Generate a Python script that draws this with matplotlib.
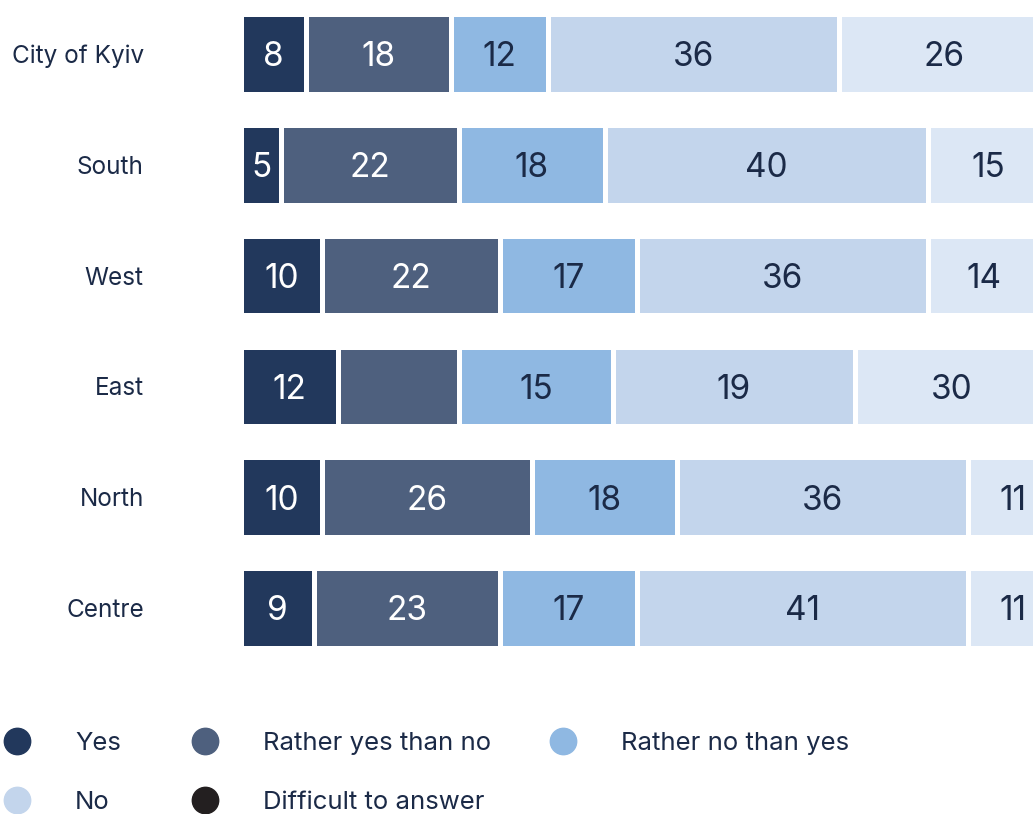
import matplotlib
matplotlib.use('agg')

import matplotlib.pyplot as plt
from matplotlib.lines import Line2D
import numpy as np

regions = ["City of Kyiv", "South", "West", "East", "North", "Centre"]
answers = ["Yes", "Rather yes than no", "Rather no than yes", "No", "Difficult to answer"]

# shares per region, in the order of answers
yes = [8, 5, 10, 12, 10, 9]
rather_yes = [18, 22, 22, 15, 26, 23]
rather_no = [12, 18, 17, 19, 18, 17]
no = [36, 40, 36, 30, 36, 41]
difficult = [26, 15, 14, 24, 11, 11]

# which segment each value label sits on (East has its labels moved one step right)
label_slots = [
    [0, 1, 2, 3, 4],
    [0, 1, 2, 3, 4],
    [0, 1, 2, 3, 4],
    [0, 2, 3, 4, None],
    [0, 1, 2, 3, 4],
    [0, 1, 2, 3, 4],
]

bar_colors = ["#22385c", "#4e607e", "#8fb8e2", "#c3d5ec", "#dce7f5"]
legend_colors = ["#22385c", "#4e607e", "#8fb8e2", "#c3d5ec", "#231f20"]
text_colors = ["white", "white", "#1b2a47", "#1b2a47", "#1b2a47"]
dark = "#1b2a47"

plt.rcParams['font.family'] = ['Inter', 'DejaVu Sans']

W, H = 1033, 814
fig = plt.figure(figsize=(W / 100, H / 100), dpi=100)

x0 = 241
px_per_unit = 8.08
row_step = 110.8
top_center = 54
ax_top = top_center - row_step / 2
ax_h = row_step * len(regions)
ax = fig.add_axes([x0 / W, 1 - (ax_top + ax_h) / H, (W - x0) / W, ax_h / H])

series = np.array([yes, rather_yes, rather_no, no, difficult], dtype=float)
ypos = np.arange(len(regions))
lefts = np.zeros(len(regions))
for k in range(len(answers)):
    ax.barh(ypos, series[k], left=lefts, height=0.72, color=bar_colors[k],
            edgecolor="white", linewidth=3.6)
    lefts += series[k]

starts = np.vstack([np.zeros(len(regions)), np.cumsum(series, axis=0)[:-1]])
for i in range(len(regions)):
    for k in range(len(answers)):
        slot = label_slots[i][k]
        if slot is None:
            continue
        cx = starts[slot, i] + series[slot, i] / 2
        ax.text(cx, i, "%d" % series[k, i], ha="center", va="center_baseline",
                fontsize=24, color=text_colors[slot])

ax.set_xlim(0, (W - x0) / px_per_unit)
ax.set_ylim(len(regions) - 0.5, -0.5)
ax.set_yticks(ypos)
ax.set_yticklabels(regions, fontsize=17.5, color=dark)
ax.tick_params(axis="y", length=0, pad=70)
ax.set_xticks([])
for s in ax.spines.values():
    s.set_visible(False)

# legend laid out in two rows under the bars
slots = [(17, 741), (205, 741), (563, 741), (17, 800), (205, 800)]
for (mx, my), lab, col in zip(slots, answers, legend_colors):
    fig.add_artist(Line2D([mx / W], [1 - my / H], marker="o", markersize=19,
                          color=col, linestyle="none", transform=fig.transFigure))
    fig.text((mx + 58) / W, 1 - my / H, lab, fontsize=18.5, color=dark,
             ha="left", va="center_baseline")

plt.savefig("out.png", dpi=100)
